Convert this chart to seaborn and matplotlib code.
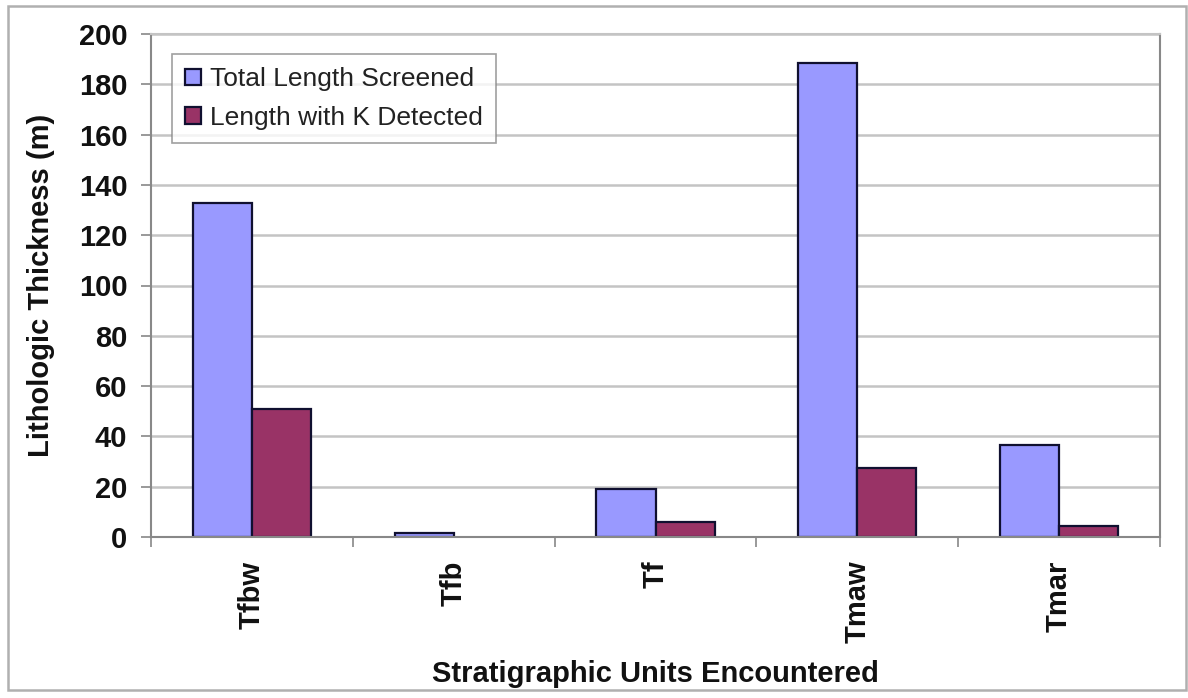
import matplotlib
matplotlib.use("Agg")
import matplotlib.pyplot as plt
from matplotlib.patches import Rectangle
import seaborn as sns
import pandas as pd

# Thickness of each stratigraphic unit (m)
units = ["Tfbw", "Tfb", "Tf", "Tmaw", "Tmar"]
total_screened = [133, 1.5, 19, 188.5, 36.5]
k_detected = [51, 0, 6, 27.5, 4.5]
series_names = ["Total Length Screened", "Length with K Detected"]
y_ticks = [0, 20, 40, 60, 80, 100, 120, 140, 160, 180, 200]

df = pd.DataFrame({
    "unit": units * 2,
    "series": [series_names[0]] * len(units) + [series_names[1]] * len(units),
    "value": total_screened + k_detected,
})

sns.set_theme(style="white")
plt.rcParams["font.family"] = ["Liberation Sans", "DejaVu Sans"]
plt.rcParams["font.weight"] = "bold"

fig = plt.figure(figsize=(11.88, 6.98), dpi=100)
ax = fig.add_axes([151 / 1188, 1 - 537 / 698, (1160 - 151) / 1188, (537 - 34) / 698])

palette = {series_names[0]: "#9999FF", series_names[1]: "#993366"}
sns.barplot(data=df, x="unit", y="value", hue="series", order=units,
            hue_order=series_names, palette=palette, width=0.585, gap=0,
            saturation=1, edgecolor="#101030", linewidth=1.6, ax=ax)

# Empty bars leave no outline on the baseline
for container in ax.containers:
    for bar in container:
        if bar.get_height() == 0:
            bar.set_visible(False)

ax.set_xlim(-0.5, len(units) - 0.5)
ax.set_ylim(0, 200)
ax.set_yticks(y_ticks)
ax.yaxis.grid(True, color="#c4c4c4", linewidth=1.8)
ax.set_axisbelow(True)

for side in ["left", "bottom", "right", "top"]:
    ax.spines[side].set_color("#888888")
    ax.spines[side].set_linewidth(1.5)
ax.spines["top"].set_color("#c4c4c4")

# Category ticks sit between the groups
ax.set_xticks([i - 0.5 for i in range(len(units) + 1)], minor=True)
ax.tick_params(axis="x", which="minor", bottom=True, length=7, width=1.2,
               color="#888888", direction="out")
ax.tick_params(axis="x", which="major", bottom=False, length=0, pad=17,
               labelsize=21, labelrotation=90)
ax.tick_params(axis="y", left=True, length=7, width=1.2, color="#888888",
               direction="out", pad=10, labelsize=21)
for lbl in ax.get_xticklabels() + ax.get_yticklabels():
    lbl.set_fontweight("bold")
    lbl.set_color("#111111")

ax.set_xlabel("Stratigraphic Units Encountered", fontsize=21, fontweight="bold",
              labelpad=12, color="#111111")
ax.set_ylabel("Lithologic Thickness (m)", fontsize=21, fontweight="bold",
              labelpad=17, color="#111111")

leg = ax.legend(loc="upper left", bbox_to_anchor=(21 / 1009, 1 - 20 / 503),
                frameon=True, fancybox=False, shadow=False, fontsize=19,
                handlelength=0.6, handleheight=0.6, handletextpad=0.35,
                labelspacing=0.55, borderpad=0.5, borderaxespad=0)
leg.get_frame().set_edgecolor("#888888")
leg.get_frame().set_linewidth(1.2)
for t in leg.get_texts():
    t.set_fontweight("normal")
    t.set_color("#222222")

# Outer chart border
fig.patches.append(Rectangle((8 / 1188, 8 / 698), 1178 / 1188, 684 / 698,
                             transform=fig.transFigure, fill=False,
                             edgecolor="#b0b0b0", linewidth=1.8))

fig.savefig("out.png", dpi=100)
